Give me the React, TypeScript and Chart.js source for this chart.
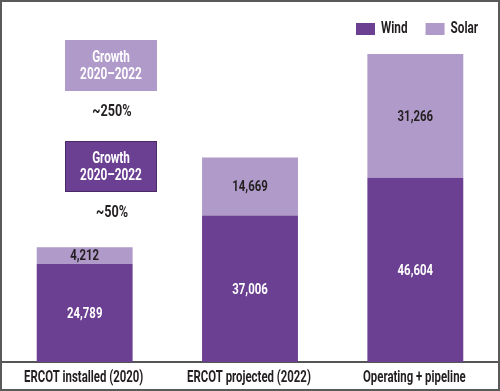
import React, { useEffect, useRef } from "react";
import { Chart, registerables } from "chart.js";

Chart.register(...registerables);

const categories = ["ERCOT installed (2020)", "ERCOT projected (2022)", "Operating + pipeline"];
const windValues = [24789, 37006, 46604];
const solarValues = [4212, 14669, 31266];
const seriesNames = ["Wind", "Solar"];
const growthLabel = ["Growth", "2020–2022"];
const growthPercents = ["~250%", "~50%"];

const WIND = "#6b3f91";
const SOLAR = "#b09aca";
const TEXT = "#231f20";
const FAMILY = "Roboto, 'DejaVu Sans', sans-serif";
const WEIGHT = "bold";

const fmt = (v: number) => v.toLocaleString("en-US");

function narrowText(ctx: CanvasRenderingContext2D, text: string, x: number, y: number, size: number, color: string, squeeze: number) {
  ctx.save();
  ctx.font = `${WEIGHT} ${size}px ${FAMILY}`;
  ctx.fillStyle = color;
  ctx.textAlign = "center";
  ctx.textBaseline = "middle";
  ctx.translate(x, y);
  ctx.scale(squeeze, 1);
  ctx.fillText(text, 0, 0);
  ctx.restore();
}

function narrowWidth(ctx: CanvasRenderingContext2D, text: string, size: number, squeeze: number) {
  ctx.save();
  ctx.font = `${WEIGHT} ${size}px ${FAMILY}`;
  const w = ctx.measureText(text).width * squeeze;
  ctx.restore();
  return w;
}

const barLabels = {
  id: "barLabels",
  afterDatasetsDraw(chart: any) {
    const ctx = chart.ctx;
    chart.data.datasets.forEach((ds: any, di: number) => {
      const meta = chart.getDatasetMeta(di);
      meta.data.forEach((el: any, i: number) => {
        const { x, y, base } = el.getProps(["x", "y", "base"], true);
        narrowText(ctx, fmt(ds.data[i]), x, (y + base) / 2 + 1, 15, di === 0 ? "#ffffff" : TEXT, 0.76);
      });
    });
  },
};

const xLabels = {
  id: "xLabels",
  afterDraw(chart: any) {
    const ctx = chart.ctx;
    const xs = chart.scales.x;
    categories.forEach((c, i) => {
      narrowText(ctx, c, xs.getPixelForValue(i) - 1, chart.chartArea.bottom + 16, 17, TEXT, 0.67);
    });
  },
};

const customLegend = {
  id: "customLegend",
  afterDraw(chart: any) {
    const ctx = chart.ctx;
    let x = chart.chartArea.right - 142;
    const cy = chart.chartArea.top + 23;
    chart.data.datasets.forEach((ds: any) => {
      ctx.fillStyle = ds.backgroundColor;
      ctx.fillRect(x, cy - 6, 19, 12);
      x += 19 + 6;
      const w = narrowWidth(ctx, ds.label, 17, 0.69);
      narrowText(ctx, ds.label, x + w / 2, cy, 17, TEXT, 0.69);
      x += w + 18;
    });
  },
};

const growthNotes = {
  id: "growthNotes",
  afterDraw(chart: any) {
    const ctx = chart.ctx;
    const ys = chart.scales.y;
    const left = chart.chartArea.left + 63;
    const w = 92;
    const boxes = [
      { top: 81400, bottom: 68500, pct: 63200, color: SOLAR, text: growthPercents[0] },
      { top: 55900, bottom: 43000, pct: 37700, color: WIND, text: growthPercents[1] },
    ];
    boxes.forEach((b) => {
      const t = Math.round(ys.getPixelForValue(b.top));
      const bt = Math.round(ys.getPixelForValue(b.bottom));
      ctx.fillStyle = b.color;
      ctx.fillRect(left, t, w, bt - t);
      if (b.color === WIND) {
        ctx.strokeStyle = "#4a2a66";
        ctx.lineWidth = 1;
        ctx.strokeRect(left + 0.5, t + 0.5, w - 1, bt - t - 1);
      }
      const cy = (t + bt) / 2;
      narrowText(ctx, growthLabel[0], left + w / 2, cy - 8, 16, "#ffffff", 0.73);
      narrowText(ctx, growthLabel[1], left + w / 2, cy + 9, 16, "#ffffff", 0.74);
      narrowText(ctx, b.text, left + w / 2 + 1, ys.getPixelForValue(b.pct), 16, TEXT, 0.79);
    });
  },
};

export default function App() {
  const ref = useRef<HTMLCanvasElement>(null);
  useEffect(() => {
    if (!ref.current) return;
    const chart = new Chart(ref.current, {
      type: "bar",
      data: {
        labels: categories,
        datasets: [
          { label: seriesNames[0], data: windValues, backgroundColor: WIND, borderWidth: 0 },
          { label: seriesNames[1], data: solarValues, backgroundColor: SOLAR, borderWidth: 0 },
        ],
      },
      options: {
        animation: false,
        responsive: false,
        maintainAspectRatio: false,
        layout: { padding: { top: 4, bottom: 27, left: 0, right: 0 } },
        datasets: { bar: { categoryPercentage: 1, barPercentage: 0.58 } } as any,
        scales: {
          x: {
            stacked: true,
            grid: { display: false, drawTicks: false },
            border: { display: true, color: "#555555", width: 2 },
            ticks: { display: false },
          },
          y: { stacked: true, display: false, min: 0, max: 90000 },
        },
        plugins: {
          legend: { display: false },
          tooltip: { enabled: false },
        },
      },
      plugins: [barLabels, xLabels, customLegend, growthNotes],
    });
    return () => chart.destroy();
  }, []);
  return (
    <div
      style={{
        position: "fixed",
        left: 0,
        top: 0,
        width: 500,
        height: 391,
        boxSizing: "border-box",
        border: "2px solid #5a5a5a",
        background: "#ffffff",
      }}
    >
      <canvas ref={ref} width={496} height={387} style={{ display: "block" }} />
    </div>
  );
}
